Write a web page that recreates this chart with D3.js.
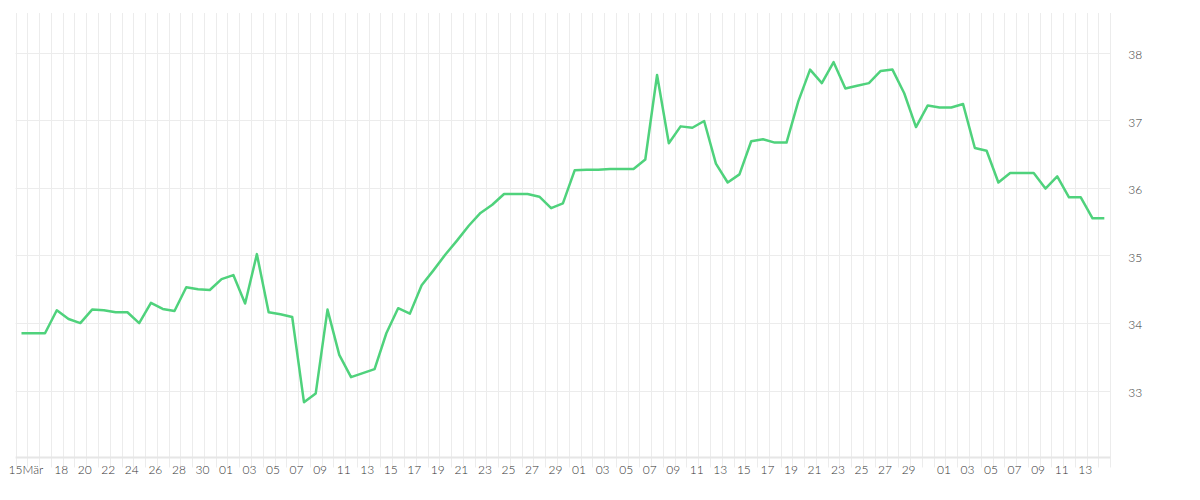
<!DOCTYPE html>
<html>
<head>
<meta charset="utf-8">
<script src="https://cdn.jsdelivr.net/npm/d3@7/dist/d3.min.js"></script>
<style>
  html, body { margin: 0; padding: 0; background: #fff; }
  svg { display: block; }
  text { font-family: "Lato", "Noto Sans", sans-serif; font-size: 12px; font-weight: 300; fill: #333; }
</style>
</head>
<body>
<svg id="chart" width="1200" height="500"></svg>
<script>
// ---- data ----
const startDate = "2021-03-14";
const values = [
  33.85, 33.85, 33.85, 34.19, 34.06, 34.00, 34.20, 34.19, 34.16, 34.16,
  34.00, 34.30, 34.21, 34.18, 34.53, 34.50, 34.49, 34.65, 34.71, 34.29,
  35.02, 34.16, 34.13, 34.09, 32.83, 32.96, 34.20, 33.53, 33.20, 33.26,
  33.32, 33.85, 34.22, 34.14, 34.56, 34.78, 35.01, 35.22, 35.44, 35.63,
  35.75, 35.91, 35.91, 35.91, 35.87, 35.70, 35.77, 36.26, 36.27, 36.27,
  36.28, 36.28, 36.28, 36.42, 37.67, 36.66, 36.91, 36.89, 36.99, 36.36,
  36.08, 36.20, 36.69, 36.72, 36.67, 36.67, 37.28, 37.75, 37.55, 37.86,
  37.47, 37.51, 37.55, 37.73, 37.75, 37.40, 36.90, 37.22, 37.19, 37.19,
  37.24, 36.59, 36.55, 36.08, 36.22, 36.22, 36.22, 35.99, 36.17, 35.86,
  35.86, 35.55, 35.55
];
const tickDates = [
  "2021-03-15", "2021-03-18", "2021-03-20", "2021-03-22", "2021-03-24", "2021-03-26", "2021-03-28", "2021-03-30",
  "2021-04-01", "2021-04-03", "2021-04-05", "2021-04-07", "2021-04-09", "2021-04-11", "2021-04-13", "2021-04-15",
  "2021-04-17", "2021-04-19", "2021-04-21", "2021-04-23", "2021-04-25", "2021-04-27", "2021-04-29",
  "2021-05-01", "2021-05-03", "2021-05-05", "2021-05-07", "2021-05-09", "2021-05-11", "2021-05-13", "2021-05-15",
  "2021-05-17", "2021-05-19", "2021-05-21", "2021-05-23", "2021-05-25", "2021-05-27", "2021-05-29",
  "2021-06-01", "2021-06-03", "2021-06-05", "2021-06-07", "2021-06-09", "2021-06-11", "2021-06-13"
];
const tickLabels = [
  "15Mär", "18", "20", "22", "24", "26", "28", "30",
  "01", "03", "05", "07", "09", "11", "13", "15",
  "17", "19", "21", "23", "25", "27", "29",
  "01", "03", "05", "07", "09", "11", "13", "15",
  "17", "19", "21", "23", "25", "27", "29",
  "01", "03", "05", "07", "09", "11", "13"
];
const yTicks = [33, 34, 35, 36, 37, 38];
const domainStart = "2021-03-14";
const domainEnd = "2021-06-15";

// ---- layout ----
const plot = { left: 15.6, right: 1110.2, top: 13, bottom: 457.5 };
const parse = d3.utcParse("%Y-%m-%d");
const t0 = parse(startDate);
const points = values.map((v, i) => ({ date: d3.utcHour.offset(d3.utcDay.offset(t0, i), 12), value: v }));

const x = d3.scaleUtc().domain([parse(domainStart), parse(domainEnd)]).range([plot.left, plot.right]);
const y = d3.scaleLinear().domain([32.012, 38.587]).range([plot.bottom, plot.top]);

const svg = d3.select("#chart");

// vertical daily grid
const days = d3.utcDay.range(parse(domainStart), d3.utcDay.offset(parse(domainEnd), 1));
svg.append("g").selectAll("line").data(days).join("line")
  .attr("x1", d => Math.round(x(d)) + 0.5).attr("x2", d => Math.round(x(d)) + 0.5)
  .attr("y1", plot.top).attr("y2", plot.bottom + 10)
  .attr("stroke", "#ececec").attr("stroke-width", 1);

// horizontal grid
svg.append("g").selectAll("line").data(yTicks).join("line")
  .attr("x1", plot.left).attr("x2", plot.right)
  .attr("y1", d => Math.round(y(d)) + 0.5).attr("y2", d => Math.round(y(d)) + 0.5)
  .attr("stroke", "#ececec").attr("stroke-width", 1);

// baseline
svg.append("line")
  .attr("x1", plot.left).attr("x2", plot.right)
  .attr("y1", plot.bottom).attr("y2", plot.bottom)
  .attr("stroke", "#e6e6e6").attr("stroke-width", 2);

// y axis labels (right)
const yAxis = d3.axisRight(y).tickValues(yTicks).tickSize(0).tickPadding(0).tickFormat(d3.format("d"));
const gy = svg.append("g").attr("transform", `translate(${plot.right + 18},2)`).call(yAxis);
gy.select(".domain").remove();
gy.selectAll("text").attr("fill", "#333");
gy.attr("font-family", null).attr("font-size", null);

// x axis labels
const tickMap = new Map(tickDates.map((d, i) => [+parse(d), tickLabels[i]]));
const xAxis = d3.axisBottom(x).tickValues(tickDates.map(parse)).tickSize(0).tickPadding(0)
  .tickFormat(d => tickMap.get(+d));
const gx = svg.append("g").attr("transform", `translate(-2,${plot.bottom + 8})`).call(xAxis);
gx.select(".domain").remove();
gx.selectAll("text").attr("fill", "#333");
gx.attr("font-family", null).attr("font-size", null);

// line
const line = d3.line().x(d => x(d.date)).y(d => y(d.value));
svg.append("path").datum(points)
  .attr("d", line)
  .attr("fill", "none")
  .attr("stroke", "#4fd27c")
  .attr("stroke-width", 2.5)
  .attr("stroke-linejoin", "round");
</script>
</body>
</html>
